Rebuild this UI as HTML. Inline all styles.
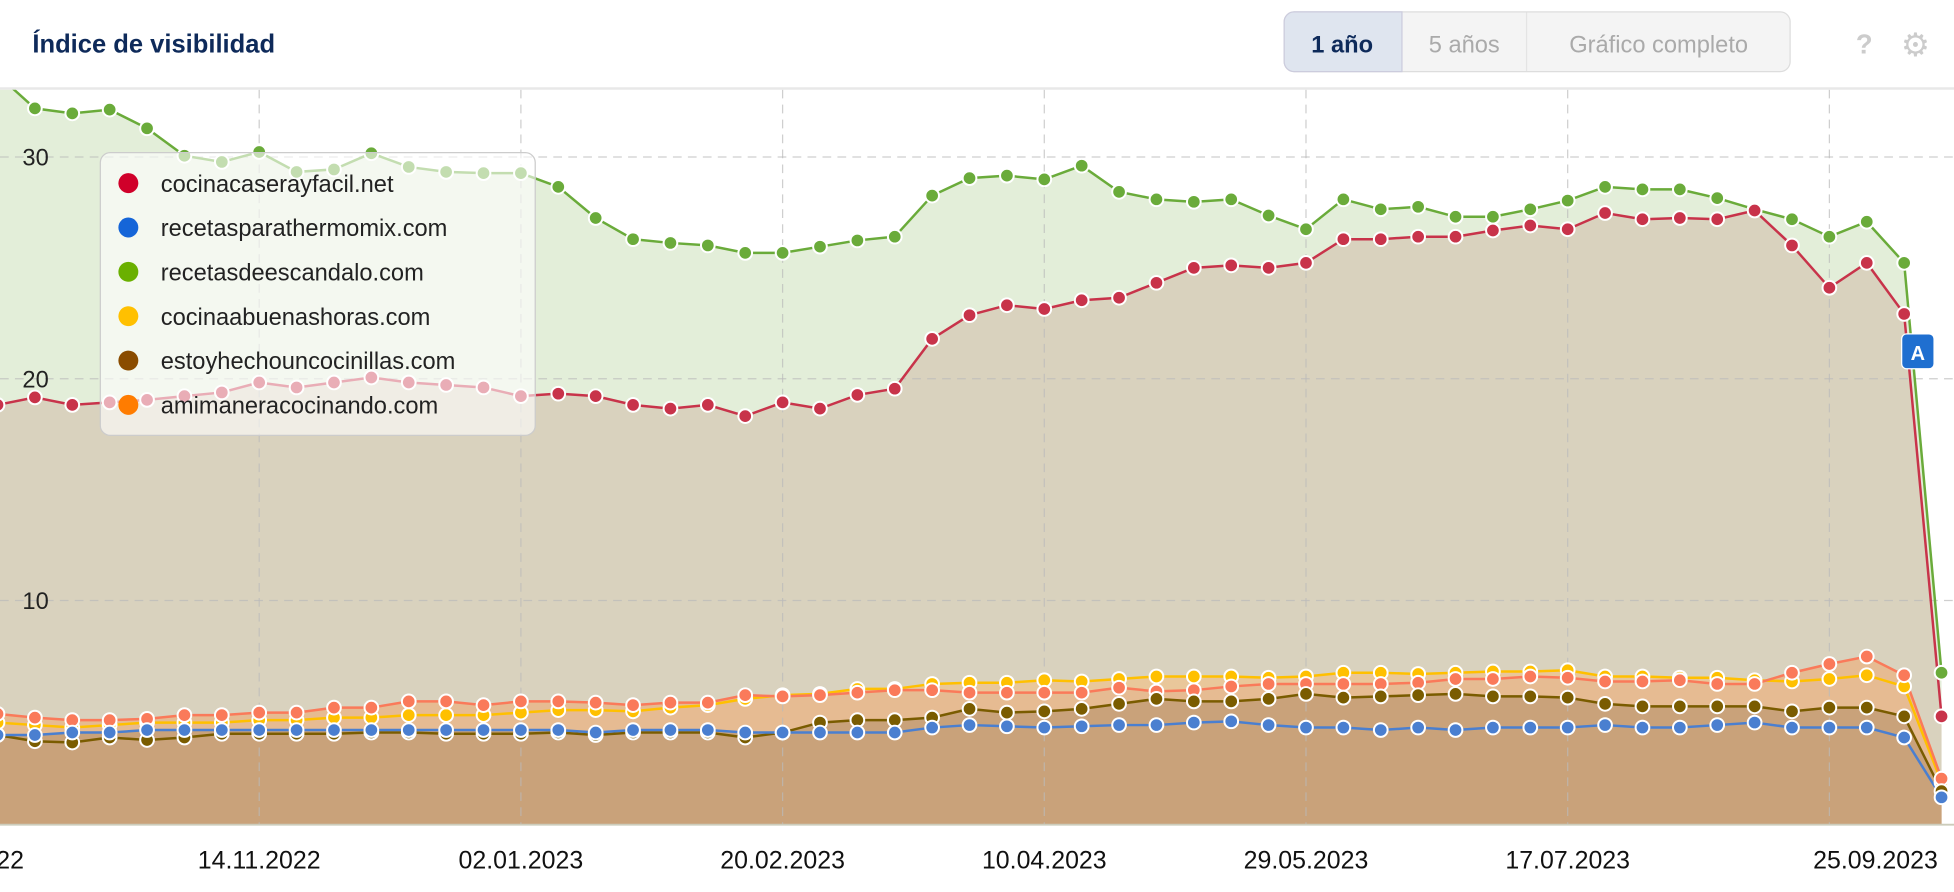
<!DOCTYPE html>
<html><head><meta charset="utf-8"><style>
html,body{margin:0;padding:0;background:#fff;width:1954px;height:892px;overflow:hidden}
svg{display:block}
text{font-family:"Liberation Sans",Arial,sans-serif}
</style></head><body>
<svg id="s" width="1954" height="892" viewBox="0 0 1568 716" preserveAspectRatio="none" xmlns="http://www.w3.org/2000/svg">
<rect width="1568" height="716" fill="#fff"/>
<text x="26" y="42" font-size="20.5" font-weight="bold" fill="#0e2a5a">Índice de visibilidad</text>
<rect x="1030.5" y="9.5" width="406" height="48" rx="8" fill="#f4f4f4" stroke="#ddd"/>
<path d="M1038.5 9.5 H1125 V57.5 H1038.5 A8 8 0 0 1 1030.5 49.5 V17.5 A8 8 0 0 1 1038.5 9.5Z" fill="#dfe5ef" stroke="#ccd"/>
<line x1="1225" y1="10" x2="1225" y2="57" stroke="#e4e4e4"/>
<text x="1077" y="42" font-size="19" font-weight="bold" fill="#0e2a5a" text-anchor="middle">1 año</text>
<text x="1175" y="42" font-size="19" fill="#aaa" text-anchor="middle">5 años</text>
<text x="1331" y="42" font-size="19" fill="#aaa" text-anchor="middle">Gráfico completo</text>
<text x="1496" y="43" font-size="22" font-weight="bold" fill="#ccc" text-anchor="middle">?</text>
<text x="1537" y="45" font-size="26" fill="#ccc" text-anchor="middle">⚙</text>
<line x1="0" y1="71" x2="1568" y2="71" stroke="#e8e8e8" stroke-width="2"/>
<g id="plot"></g>
</svg>
<script>
var X=[];for(var k=-1;k<=51;k++)X.push(28+30*k);
var G=[60,87,91,88,103,125,130,122,138,136,123,134,138,139,139,150,175,192,195,197,203,203,198,193,190,157,143,141,144,133,154,160,162,160,173,184,160,168,166,174,174,168,161,150,152,152,159,168,176,190,178,211,540];
var R=[325,319,325,323,321,318,315,307,311,307,303,307,309,311,318,316,318,325,328,325,334,323,328,317,312,272,253,245,248,241,239,227,215,213,215,211,192,192,190,190,185,181,184,171,176,175,176,169,197,231,211,252,575];
var Y=[580,582,584,582,580,580,580,578,578,576,576,574,574,574,572,570,570,571,568,566,561,558,557,553,553,549,548,548,546,547,545,543,543,543,544,543,540,540,541,540,539,539,538,543,543,544,544,546,547,545,542,551,628];
var O=[573,576,578,578,577,574,574,572,572,568,568,563,563,566,563,563,564,566,564,564,558,559,558,556,554,554,556,556,556,556,552,555,554,551,549,549,549,549,548,545,545,543,544,547,547,546,549,549,540,533,527,542,625];
var B=[590,595,596,592,594,592,589,589,589,589,588,588,589,589,589,588,590,588,588,588,592,588,580,578,578,576,569,572,571,569,565,561,563,563,561,557,560,559,558,557,559,559,560,565,567,567,567,567,571,568,568,575,635];
var L=[590,590,588,588,586,586,586,586,586,586,586,586,586,586,586,586,588,586,586,586,588,588,588,588,588,584,582,583,584,583,582,582,580,579,582,584,584,586,584,586,584,584,584,582,584,584,582,580,584,584,584,592,640];
var S=[[G,"#6aab3a","#e3eed9"],[R,"#c8334a","#d9d2be"],[Y,"#ffc000","#e9c79a"],[O,"#fa7a5a","#e6bb92"],[B,"#7a5c00","#c9a27a"],[L,"#4a7fd0","#c9a27a"]];
var h='';
h+='<svg x="0" y="72" width="1568" height="590" viewBox="0 72 1568 590" overflow="hidden">';
var pts=function(a){return a.map(function(v,i){return X[i]+','+v}).join(' ');};
S.forEach(function(s){h+='<polygon points="'+pts(s[0])+' 1558,662 -2,662" fill="'+s[2]+'"/>';});
[208,418,628,838,1048,1258,1468].forEach(function(x){h+='<line x1="'+x+'" y1="72" x2="'+x+'" y2="662" stroke="#bbb" stroke-dasharray="7,5" opacity="0.7"/>';});
[126,304,482].forEach(function(y){h+='<line x1="0" y1="'+y+'" x2="1568" y2="'+y+'" stroke="#bbb" stroke-dasharray="7,5" opacity="0.7"/>';});
S.forEach(function(s){h+='<polyline points="'+pts(s[0])+'" fill="none" stroke="'+s[1]+'" stroke-width="2"/>';});
S.forEach(function(s){s[0].forEach(function(v,i){h+='<circle cx="'+X[i]+'" cy="'+v+'" r="5.5" fill="'+s[1]+'" stroke="#fff" stroke-width="1.6"/>';});});
h+='</svg>';
h+='<text x="18" y="133" font-size="19" fill="#222">30</text><text x="18" y="311" font-size="19" fill="#222">20</text><text x="18" y="489" font-size="19" fill="#222">10</text>';
h+='<line x1="0" y1="662" x2="1568" y2="662" stroke="#ccb" stroke-width="1.5"/>';
var lab=[[208,"14.11.2022"],[418,"02.01.2023"],[628,"20.02.2023"],[838,"10.04.2023"],[1048,"29.05.2023"],[1258,"17.07.2023"],[1505,"25.09.2023"]];
lab.forEach(function(l){h+='<text x="'+l[0]+'" y="697" font-size="20" fill="#111" text-anchor="middle">'+l[1]+'</text>';});
h+='<text x="-3" y="697" font-size="20" fill="#111">22</text>';
h+='<rect x="1526" y="268" width="26" height="28" rx="4" fill="#1f6fd0" stroke="#fff"/><text x="1539" y="289" font-size="16" font-weight="bold" fill="#fff" text-anchor="middle">A</text>';
h+='<rect x="80.5" y="122.5" width="349" height="227" rx="8" fill="rgba(255,255,255,0.6)" stroke="#ccc"/>';
var lg=[["cocinacaserayfacil.net","#d0002a"],["recetasparathermomix.com","#1565d8"],["recetasdeescandalo.com","#6ab000"],["cocinaabuenashoras.com","#ffc000"],["estoyhechouncocinillas.com","#8a4c00"],["amimaneracocinando.com","#ff7c00"]];
lg.forEach(function(l,i){var y=147+i*35.6;h+='<circle cx="103" cy="'+y+'" r="8" fill="'+l[1]+'"/><text x="129" y="'+(y+7)+'" font-size="19" fill="#222">'+l[0]+'</text>';});
document.getElementById('plot').innerHTML=h;
</script>
</body></html>
